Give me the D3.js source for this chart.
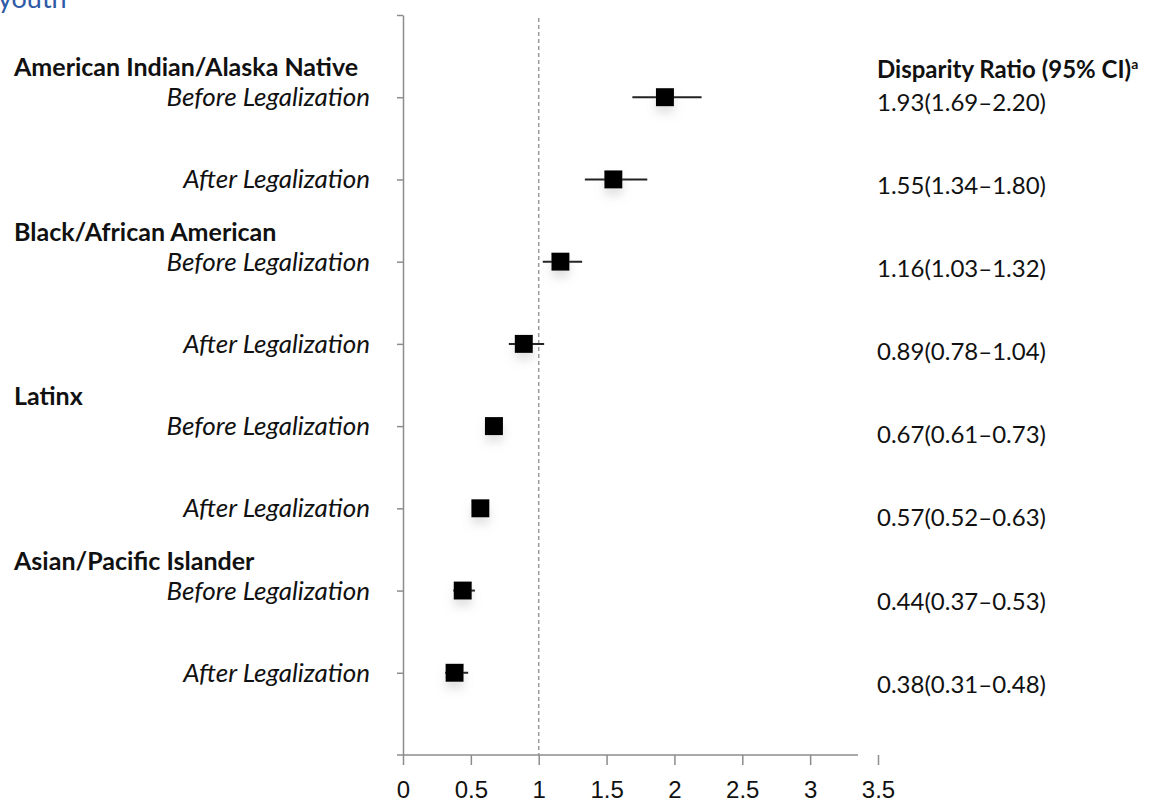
<!DOCTYPE html>
<html>
<head>
<meta charset="utf-8">
<title>Disparity ratios before and after legalization</title>
<script src="https://d3js.org/d3.v7.min.js"></script>
<style>
    body { margin: 0; background: #fff; }
    svg { display: block; font-family: Lato, "Open Sans", sans-serif; }
    .axis path, .axis line { stroke: #8c8c8c; stroke-width: 1.5; }
    .axis text { font-size: 24px; fill: #111; }
</style>
</head>
<body>
<div id="holder"></div>
<script>
// data
const groups = ["American Indian/Alaska Native", "Black/African American", "Latinx", "Asian/Pacific Islander"];
const periods = ["Before Legalization", "After Legalization"];
const ratios = [1.93, 1.55, 1.16, 0.89, 0.67, 0.57, 0.44, 0.38];
const lower  = [1.69, 1.34, 1.03, 0.78, 0.61, 0.52, 0.37, 0.31];
const upper  = [2.20, 1.80, 1.32, 1.04, 0.73, 0.63, 0.53, 0.48];
const xTicks = [0, 0.5, 1, 1.5, 2, 2.5, 3, 3.5];
const header = "Disparity Ratio (95% CI)";

const w = 1152, h = 805;

const rows = ratios.map((r, i) => ({
    group: groups[Math.floor(i / 2)],
    period: periods[i % 2],
    ratio: r, lo: lower[i], hi: upper[i],
    pos: i + 1
}));

const x = d3.scaleLinear().domain([0, 3.5]).range([403, 878]);
const y = d3.scaleLinear().domain([0, 9]).range([15, 755]);

const svg = d3.select("#holder").append("svg")
    .attr("width", w)
    .attr("height", h);

// soft shadow under markers
const f = svg.append("defs").append("filter")
    .attr("id", "shadow")
    .attr("x", "-60%").attr("y", "-60%")
    .attr("width", "220%").attr("height", "260%");
f.append("feDropShadow")
    .attr("dx", 0).attr("dy", 7)
    .attr("stdDeviation", 5)
    .attr("flood-color", "#888")
    .attr("flood-opacity", 0.25);

// caption from above, cut off at the top edge as in the source
svg.append("text")
    .attr("x", -2).attr("y", 8)
    .style("font-size", "27px")
    .style("fill", "#2f5aa6")
    .text("youth");

// reference line at 1
svg.append("line")
    .attr("x1", x(1)).attr("x2", x(1))
    .attr("y1", 18).attr("y2", y(9))
    .attr("stroke", "#9a9a9a")
    .attr("stroke-width", 1.5)
    .attr("stroke-dasharray", "4,3");

// x axis
const xAxis = d3.axisBottom(x).tickValues(xTicks).tickSize(10).tickSizeOuter(0).tickPadding(16).tickFormat(d => d);
const gx = svg.append("g")
    .attr("class", "axis")
    .attr("transform", "translate(0," + y(9) + ")")
    .call(xAxis);
gx.select(".domain").attr("d", "M" + (x(0) - 6) + ",0H858");

// y axis
const yAxis = d3.axisLeft(y).tickValues(d3.range(0, 9)).tickSize(6).tickSizeOuter(0).tickFormat("");
svg.append("g")
    .attr("class", "axis")
    .attr("transform", "translate(" + x(0) + ",0)")
    .call(yAxis);

// group labels
svg.selectAll(".group")
    .data(rows.filter((d, i) => i % 2 == 0))
    .enter()
    .append("text")
    .attr("class", "group")
    .attr("x", 14)
    .attr("y", d => y(d.pos) - 21)
    .style("font-size", "25px")
    .style("font-weight", "bold")
    .style("fill", "#111")
    .text(d => d.group);

// period labels
svg.selectAll(".period")
    .data(rows)
    .enter()
    .append("text")
    .attr("class", "period")
    .attr("x", 370)
    .attr("y", d => y(d.pos) + 9)
    .attr("text-anchor", "end")
    .style("font-size", "26px")
    .style("font-style", "italic")
    .style("fill", "#111")
    .text(d => d.period);

// confidence intervals
svg.selectAll(".ci")
    .data(rows)
    .enter()
    .append("line")
    .attr("class", "ci")
    .attr("x1", d => x(d.lo))
    .attr("x2", d => x(d.hi))
    .attr("y1", d => y(d.pos))
    .attr("y2", d => y(d.pos))
    .attr("stroke", "#222")
    .attr("stroke-width", 2);

// markers
const s = 18;
svg.selectAll(".dot")
    .data(rows)
    .enter()
    .append("rect")
    .attr("class", "dot")
    .attr("x", d => x(d.ratio) - s / 2)
    .attr("y", d => y(d.pos) - s / 2)
    .attr("width", s)
    .attr("height", s)
    .attr("fill", "#000")
    .attr("filter", "url(#shadow)");

// right column
const hd = svg.append("text")
    .attr("x", 877).attr("y", 78)
    .style("font-size", "24px")
    .style("font-weight", "bold")
    .style("fill", "#111")
    .text(header);
hd.append("tspan")
    .attr("dy", -9)
    .style("font-size", "14px")
    .text("a");

svg.selectAll(".val")
    .data(rows)
    .enter()
    .append("text")
    .attr("class", "val")
    .attr("x", 877)
    .attr("y", d => y(d.pos) + 13 + 0.85 * d.pos)
    .style("font-size", "24px")
    .style("fill", "#111")
    .text(d => d.ratio.toFixed(2) + "(" + d.lo.toFixed(2) + "\u2013" + d.hi.toFixed(2) + ")");
</script>
</body>
</html>
